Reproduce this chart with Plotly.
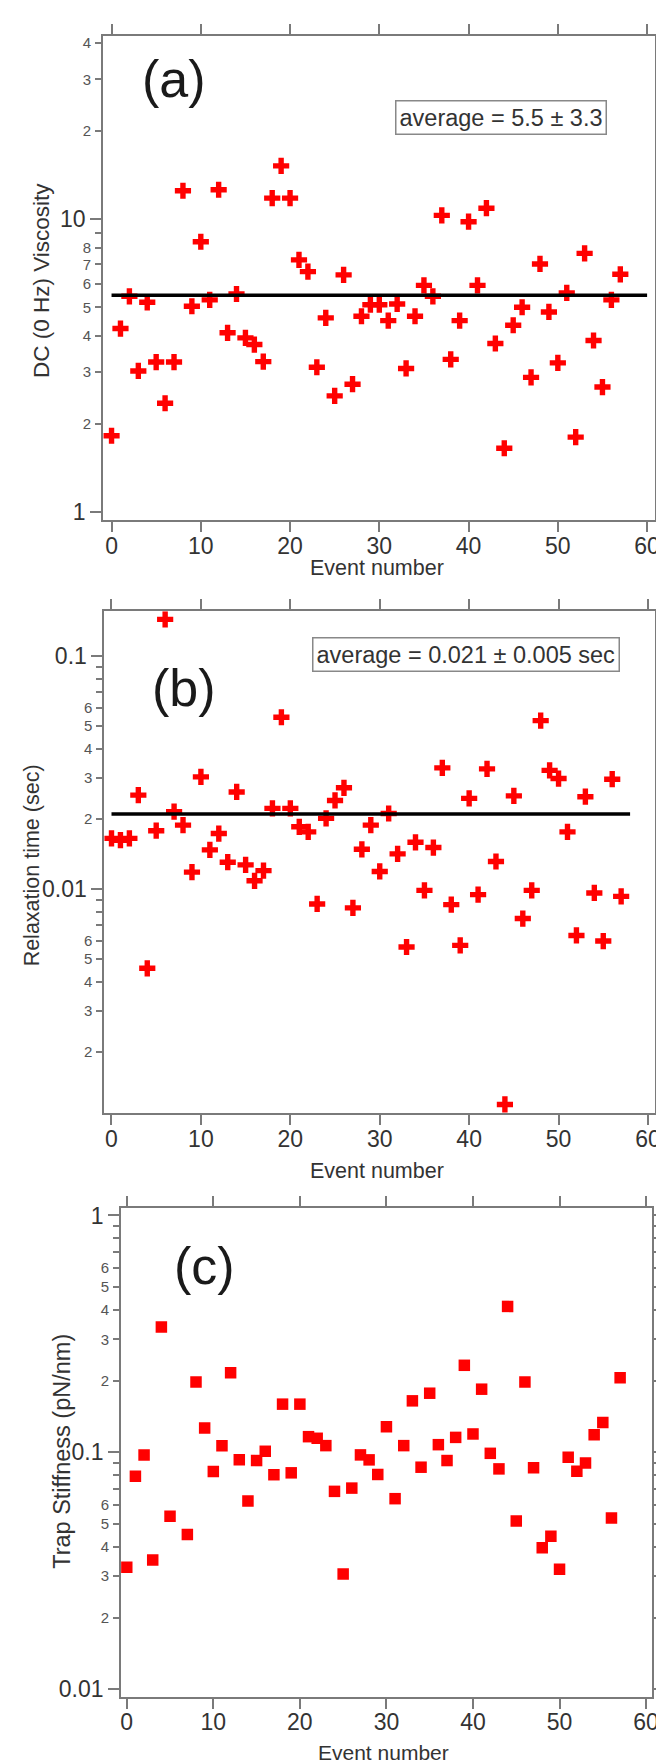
import plotly.graph_objects as go

# ---------------- data ----------------
event_a = list(range(58))
viscosity = [1.82, 4.23, 5.45, 3.03, 5.2, 3.25, 2.35, 3.25, 12.5, 5.04,
             8.37, 5.3, 12.6, 4.09, 5.55, 3.93, 3.73, 3.26, 11.8, 15.2,
             11.8, 7.26, 6.62, 3.12, 4.6, 2.49, 6.45, 2.73, 4.66, 5.1,
             5.1, 4.5, 5.13, 3.09, 4.66, 5.94, 5.45, 10.3, 3.32, 4.5,
             9.8, 5.94, 10.9, 3.76, 1.65, 4.34, 5.0, 2.88, 7.03, 4.82,
             3.23, 5.6, 1.80, 7.64, 3.85, 2.67, 5.3, 6.48]
visc_avg = 5.5
visc_avg_x = [0, 60]

event_b = list(range(58))
relax_time = [0.0165, 0.0162, 0.0165, 0.0253, 0.00457, 0.0178, 0.1437, 0.0215, 0.0188, 0.01182,
              0.0303, 0.01472, 0.0173, 0.01304, 0.0261, 0.0127, 0.01085, 0.0120, 0.0222, 0.0546,
              0.0222, 0.0185, 0.0176, 0.00863, 0.0201, 0.0240, 0.0272, 0.0083, 0.01481, 0.0188,
              0.0119, 0.0211, 0.01415, 0.00564, 0.01587, 0.00987, 0.01507, 0.0331, 0.00857, 0.00573,
              0.0245, 0.00946, 0.0328, 0.01313, 0.00119, 0.0251, 0.00747, 0.00987, 0.0528, 0.0323,
              0.0298, 0.0176, 0.00632, 0.0249, 0.00962, 0.00598, 0.0296, 0.0093]
relax_avg = 0.021
relax_avg_x = [0, 58]

event_c = [0, 1, 2, 3, 4, 5, 7, 8, 9, 10, 11, 12, 13, 14, 15, 16, 17, 18, 19, 20,
           21, 22, 23, 24, 25, 26, 27, 28, 29, 30, 31, 32, 33, 34, 35, 36, 37, 38, 39, 40,
           41, 42, 43, 44, 45, 46, 47, 48, 49, 50, 51, 52, 53, 54, 55, 56, 57]
stiffness = [0.0327, 0.0793, 0.0975, 0.0351, 0.338, 0.0537, 0.045, 0.198, 0.1266, 0.083,
             0.1067, 0.2168, 0.0929, 0.0623, 0.0923, 0.101, 0.0804, 0.1597, 0.0819, 0.1597,
             0.1164, 0.1146, 0.1067, 0.0684, 0.0306, 0.0706, 0.0975, 0.0929, 0.0806, 0.1282,
             0.0637, 0.1067, 0.1649, 0.0865, 0.1776, 0.1077, 0.0923, 0.1156, 0.233, 0.1195,
             0.1847, 0.099, 0.0851, 0.413, 0.0513, 0.198, 0.086, 0.0395, 0.0442, 0.0321,
             0.0953, 0.0832, 0.0902, 0.1187, 0.1337, 0.0528, 0.2066]

x_ticks = [0, 10, 20, 30, 40, 50, 60]

a_minor_vals = [2, 3, 4, 5, 6, 7, 8, 9, 20, 30, 40]
a_minor_text = ["2", "3", "4", "5", "6", "7", "8", "", "2", "3", "4"]
a_major_vals = [1, 10]
a_major_text = ["1", "10"]

b_minor_vals = [0.002, 0.003, 0.004, 0.005, 0.006, 0.007, 0.008, 0.009,
                0.02, 0.03, 0.04, 0.05, 0.06, 0.07, 0.08, 0.09]
b_minor_text = ["2", "3", "4", "5", "6", "", "", "", "2", "3", "4", "5", "6", "", "", ""]
b_major_vals = [0.01, 0.1]
b_major_text = ["0.01", "0.1"]

c_minor_vals = [0.02, 0.03, 0.04, 0.05, 0.06, 0.07, 0.08, 0.09,
                0.2, 0.3, 0.4, 0.5, 0.6, 0.7, 0.8, 0.9]
c_minor_text = ["2", "3", "4", "5", "6", "", "", "", "2", "3", "4", "5", "6", "", "", ""]
c_major_vals = [0.01, 0.1, 1]
c_major_text = ["0.01", "0.1", "1"]

# ---------------- style ----------------
W, H = 664, 1764
FONT = "Liberation Sans, Arial, sans-serif"
AXC = "#7a7a7a"
RED = "#ff0000"


def px_x(p):
    return p / W


def px_y(p):
    return 1 - p / H


fig = go.Figure()

series = [
    (event_a, viscosity, "cross", 13.5),
    (event_b, relax_time, "cross", 13.5),
    (event_c, stiffness, "square", 11.5),
]
for i, (xs, ys, sym, sz) in enumerate(series):
    k = "" if i == 0 else str(i + 1)
    fig.add_trace(go.Scatter(x=xs, y=ys, mode="markers", xaxis="x" + k, yaxis="y" + k,
                             marker=dict(symbol=sym, size=sz, color=RED, line=dict(width=0)),
                             hoverinfo="x+y"))
    # invisible twin so that the overlaying major-tick axis gets drawn
    fig.add_trace(go.Scatter(x=xs, y=ys, mode="markers", xaxis="x" + k, yaxis="y" + str(i + 4),
                             marker=dict(size=1, opacity=0), hoverinfo="skip"))

fig.add_trace(go.Scatter(x=visc_avg_x, y=[visc_avg] * 2, mode="lines", xaxis="x", yaxis="y",
                         line=dict(color="black", width=3.5)))
fig.add_trace(go.Scatter(x=relax_avg_x, y=[relax_avg] * 2, mode="lines", xaxis="x2", yaxis="y2",
                         line=dict(color="black", width=3.5)))

panels = [
    dict(l=95.3, r=654, t=22.7, b=510, xr=[-0.94, 60.9], yr=[-0.028, 1.627],
         mv=a_minor_vals, mt=a_minor_text, Mv=a_major_vals, Mt=a_major_text),
    dict(l=96.6, r=654, t=601.7, b=1106.7, xr=[-0.79, 60.8], yr=[-2.963, -0.808],
         mv=b_minor_vals, mt=b_minor_text, Mv=b_major_vals, Mt=b_major_text),
    dict(l=113.5, r=651, t=1201.7, b=1693.3, xr=[-0.65, 60.7], yr=[-2.032, 0.032],
         mv=c_minor_vals, mt=c_minor_text, Mv=c_major_vals, Mt=c_major_text),
]

layout = dict(width=W, height=H, margin=dict(l=0, r=0, t=0, b=0),
              paper_bgcolor="white", plot_bgcolor="white", showlegend=False,
              font=dict(family=FONT, color="#333"))

for i, p in enumerate(panels):
    k = "" if i == 0 else str(i + 1)
    xd = [px_x(p["l"]), px_x(p["r"])]
    yd = [px_y(p["b"]), px_y(p["t"])]
    layout["xaxis" + k] = dict(domain=xd, range=p["xr"], anchor="y" + k,
                               tickvals=x_ticks, ticks="outside", ticklen=10, tickwidth=2,
                               tickcolor=AXC, showline=True, linecolor=AXC, linewidth=2,
                               mirror="ticks", showgrid=False, zeroline=False,
                               tickfont=dict(size=23, color="#333"), ticklabelstandoff=-6,
                               ticklabeloverflow="allow")
    layout["yaxis" + k] = dict(domain=yd, range=p["yr"], type="log", anchor="x" + k,
                               tickvals=p["mv"], ticktext=p["mt"], ticks="outside", ticklen=6,
                               tickwidth=1.5, tickcolor=AXC, showline=True, linecolor=AXC,
                               linewidth=2, mirror="ticks", showgrid=False, zeroline=False,
                               tickfont=dict(size=15, color="#555"), ticklabelstandoff=1)
    layout["yaxis" + str(i + 4)] = dict(domain=yd, range=p["yr"], type="log", anchor="x" + k,
                                        overlaying="y" + k, side="left",
                                        tickvals=p["Mv"], ticktext=p["Mt"], ticks="outside",
                                        ticklen=11, tickwidth=2, tickcolor=AXC, showline=True,
                                        linecolor=AXC, linewidth=2, mirror="ticks",
                                        showgrid=False, zeroline=False,
                                        tickfont=dict(size=23, color="#333"))

fig.update_layout(**layout)

annots = [
    dict(text="(a)", x=167, y=66.5, size=52),
    dict(text="(b)", x=177, y=679, size=52),
    dict(text="(c)", x=197.5, y=1260, size=52),
    dict(text="Event number", x=372, y=558, size=21.5),
    dict(text="Event number", x=372, y=1165, size=21.5),
    dict(text="Event number", x=379, y=1749, size=21),
]
for a in annots:
    fig.add_annotation(text=a["text"], x=px_x(a["x"]), y=px_y(a["y"]), xref="paper", yref="paper",
                       showarrow=False, xanchor="center", yanchor="middle",
                       font=dict(size=a["size"], color="#1a1a1a" if a["size"] > 30 else "#333",
                                 family=FONT))

ytitles = [
    dict(text="DC (0 Hz) Viscosity", x=33, y=269, size=22.5),
    dict(text="Relaxation time (sec)", x=23, y=857.5, size=21.5),
    dict(text="Trap Stiffness (pN/nm)", x=54, y=1446.7, size=23.5),
]
for a in ytitles:
    fig.add_annotation(text=a["text"], x=px_x(a["x"]), y=px_y(a["y"]), xref="paper", yref="paper",
                       showarrow=False, xanchor="center", yanchor="middle", textangle=-90,
                       font=dict(size=a["size"], color="#333", family=FONT))

boxes = [
    dict(text="average = 5.5 ± 3.3", x=498, y=105.4),
    dict(text="average = 0.021 ± 0.005 sec", x=463, y=645),
]
for a in boxes:
    fig.add_annotation(text=a["text"], x=px_x(a["x"]), y=px_y(a["y"]), xref="paper", yref="paper",
                       showarrow=False, xanchor="center", yanchor="middle",
                       bordercolor="#888", borderwidth=1.5, borderpad=3, bgcolor="white",
                       font=dict(size=23.5, color="#333", family=FONT))

fig.write_html("out.html")
